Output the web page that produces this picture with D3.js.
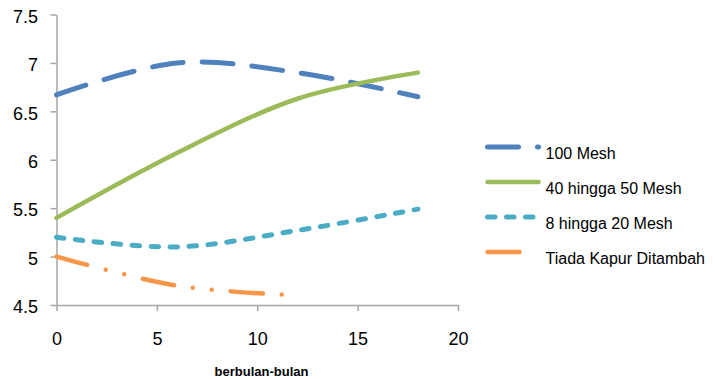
<!DOCTYPE html>
<html>
<head>
<meta charset="utf-8">
<script src="https://cdn.jsdelivr.net/npm/d3@7"></script>
<style>
  html, body { margin: 0; padding: 0; background: #ffffff; }
  svg { display: block; font-family: "Liberation Sans", Arial, sans-serif; }
</style>
</head>
<body>
<svg id="chart" width="715" height="379"></svg>
<script>
// pH of soil over time, by lime particle size
const months = [0, 6, 12, 18];
const mesh100 = [6.67, 7.0, 6.9, 6.65];
const mesh40to50 = [5.4, 6.07, 6.63, 6.9];
const mesh8to20 = [5.2, 5.1, 5.27, 5.49];
const noLimeMonths = [0, 6, 12];
const noLime = [5.0, 4.7, 4.6];

const seriesNames = ["100 Mesh", "40 hingga 50 Mesh", "8 hingga 20 Mesh", "Tiada Kapur Ditambah"];
const xTicks = [0, 5, 10, 15, 20];
const yTicks = [4.5, 5, 5.5, 6, 6.5, 7, 7.5];
const yTickLabels = ["4.5", "5", "5.5", "6", "6.5", "7", "7.5"];
const xTitle = "berbulan-bulan";

const series = [
  { name: seriesNames[0], xs: months, ys: mesh100, color: "#4f81bd", width: 5, dash: "31,19" },
  { name: seriesNames[1], xs: months, ys: mesh40to50, color: "#9bbb59", width: 4.5, dash: null },
  { name: seriesNames[2], xs: months, ys: mesh8to20, color: "#4bacc6", width: 5, dash: "7.5,11.5" },
  { name: seriesNames[3], xs: noLimeMonths, ys: noLime, color: "#f79646", width: 4.5, dash: "32,19,0,19,0,19" }
];

const svg = d3.select("#chart");
const x = d3.scaleLinear().domain([0, 20]).range([56.5, 458]);
const y = d3.scaleLinear().domain([4.5, 7.5]).range([305, 14.5]);

const axisColor = "#a6a6a6";

// y axis
const yAxis = svg.append("g")
  .attr("transform", `translate(${x(0)},0)`)
  .call(d3.axisLeft(y).tickValues(yTicks)
    .tickFormat((d, i) => yTickLabels[i])
    .tickSize(6).tickSizeOuter(0).tickPadding(12.5));

// x axis
const xAxis = svg.append("g")
  .attr("transform", `translate(0,${y(4.5)})`)
  .call(d3.axisBottom(x).tickValues(xTicks)
    .tickSize(6).tickSizeOuter(0).tickPadding(21));

[yAxis, xAxis].forEach(g => {
  g.select(".domain").attr("stroke", axisColor).attr("stroke-width", 1.5);
  g.selectAll(".tick line").attr("stroke", axisColor).attr("stroke-width", 1.5);
  g.selectAll(".tick text")
    .attr("fill", "#000")
    .style("font-size", "18px")
    .style("font-family", "'Liberation Sans', Arial, sans-serif");
});
yAxis.selectAll(".tick text").attr("dy", "0.43em");

// x axis title
svg.append("text")
  .attr("x", 261.5)
  .attr("y", 376)
  .attr("text-anchor", "middle")
  .style("font-size", "13px")
  .style("font-weight", "bold")
  .attr("fill", "#000")
  .text(xTitle);

// smoothed series lines
const line = d3.line()
  .x(d => x(d[0]))
  .y(d => y(d[1]))
  .curve(d3.curveCardinal.tension(0));

series.forEach(s => {
  const pts = s.xs.map((m, i) => [m, s.ys[i]]);
  svg.append("path")
    .datum(pts)
    .attr("d", line)
    .attr("fill", "none")
    .attr("stroke", s.color)
    .attr("stroke-width", s.width)
    .attr("stroke-linecap", "round")
    .attr("stroke-linejoin", "round")
    .attr("stroke-dasharray", s.dash);
});

// legend
const legend = svg.append("g");
series.forEach((s, i) => {
  const ly = 147 + i * 35;
  legend.append("line")
    .attr("x1", 487.5).attr("x2", 538.5)
    .attr("y1", ly).attr("y2", ly)
    .attr("stroke", s.color)
    .attr("stroke-width", s.width)
    .attr("stroke-linecap", "round")
    .attr("stroke-dasharray", s.dash);
  legend.append("text")
    .attr("x", 545.5)
    .attr("y", ly + 11.5)
    .style("font-size", "16px")
    .attr("fill", "#000")
    .text(s.name);
});
</script>
</body>
</html>
